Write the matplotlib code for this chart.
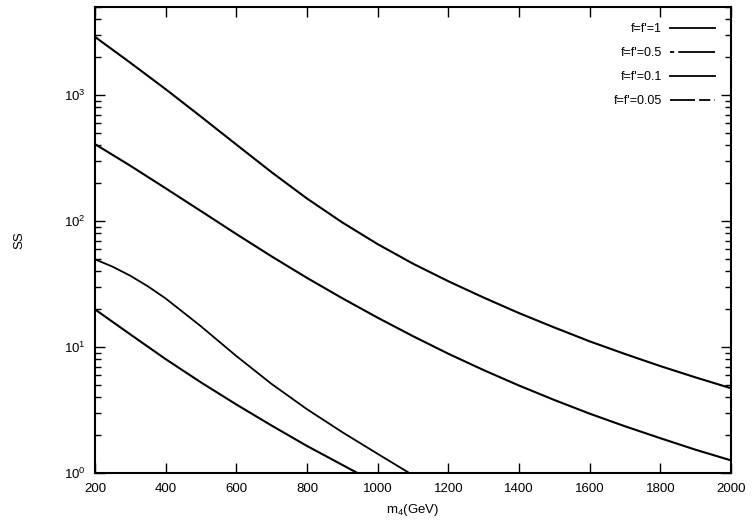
import matplotlib
matplotlib.use("Agg")
import matplotlib.pyplot as plt
from matplotlib.lines import Line2D
from matplotlib.ticker import LogLocator, FixedLocator

plt.rcParams['font.family'] = ['Liberation Sans', 'DejaVu Sans']
plt.rcParams['mathtext.fontset'] = 'custom'
plt.rcParams['mathtext.rm'] = 'Liberation Sans'
plt.rcParams['mathtext.it'] = 'Liberation Sans:italic'
plt.rcParams['lines.scale_dashes'] = False

# valores
m1 = [200, 300, 400, 500, 600, 700, 800, 900, 1000, 1100, 1200, 1300, 1400,
      1500, 1600, 1700, 1800, 1900, 2000]
ss1 = [2897, 1807, 1114, 674, 405, 244, 151, 97.5, 65.6, 45.9, 33.3, 24.7, 18.6,
       14.3, 11.1, 8.81, 7.06, 5.74, 4.71]

m2 = [200, 300, 400, 500, 600, 700, 800, 900, 1000, 1100, 1200, 1300, 1400,
      1500, 1600, 1700, 1800, 1900, 2000]
ss2 = [408, 275, 182, 120, 78.9, 52.4, 35.4, 24.4, 17.1, 12.2, 8.85, 6.56, 4.95,
       3.80, 2.96, 2.35, 1.89, 1.53, 1.26]

m3 = [200, 250, 300, 350, 400, 500, 600, 700, 800, 900, 1000, 1100]
ss3 = [49.7, 43.4, 36.8, 30.3, 24.3, 14.6, 8.49, 5.09, 3.21, 2.11, 1.42, 0.96]

m4 = [200, 300, 400, 500, 600, 700, 800, 900, 1000]
ss4 = [19.9, 12.6, 8.02, 5.24, 3.50, 2.38, 1.64, 1.16, 0.82]

rotulos = ["f=f'=1", "f=f'=0.5", "f=f'=0.1", "f=f'=0.05"]
estilos = ['-', (0, (3, 3, 27, 0)), '-', (0, (18, 3, 8, 3))]
xticks = [200, 400, 600, 800, 1000, 1200, 1400, 1600, 1800, 2000]

fig = plt.figure(figsize=(7.52, 5.24), dpi=100)
ax = fig.add_axes([0.1263, 0.0973, 0.8457, 0.8893])

ax.plot(m1, ss1, color='black', lw=1.5)
ax.plot(m2, ss2, color='black', lw=1.5)
ax.plot(m3, ss3, color='black', lw=1.3)
ax.plot(m4, ss4, color='black', lw=1.5)

ax.set_yscale('log')
ax.set_xlim(200, 2000)
ax.set_ylim(1, 5000)
ax.xaxis.set_major_locator(FixedLocator(xticks))
ax.set_xticklabels([str(t) for t in xticks])
ax.yaxis.set_major_locator(LogLocator(base=10, numticks=10))
ax.yaxis.set_minor_locator(LogLocator(base=10, subs=range(2, 10), numticks=10))

ax.tick_params(which='both', direction='in', top=True, right=True, labelsize=9.5, width=1)
ax.tick_params(which='major', length=7, pad=7)
ax.tick_params(which='minor', length=4)
for s in ax.spines.values():
    s.set_linewidth(1.5)

ax.set_xlabel('m$_4$(GeV)', fontsize=9.5, labelpad=5)
ax.set_ylabel('SS', fontsize=9.5)
ax.yaxis.set_label_coords(-0.11, 0.5)

alcas = [Line2D([], [], color='black', lw=1.3, ls=e) for e in estilos]
ax.legend(alcas, rotulos, loc='upper right', frameon=False, markerfirst=False,
          fontsize=9, handlelength=3.6, labelspacing=0.95, borderaxespad=0.9,
          handletextpad=0.6)

plt.savefig('out.png', dpi=100)
